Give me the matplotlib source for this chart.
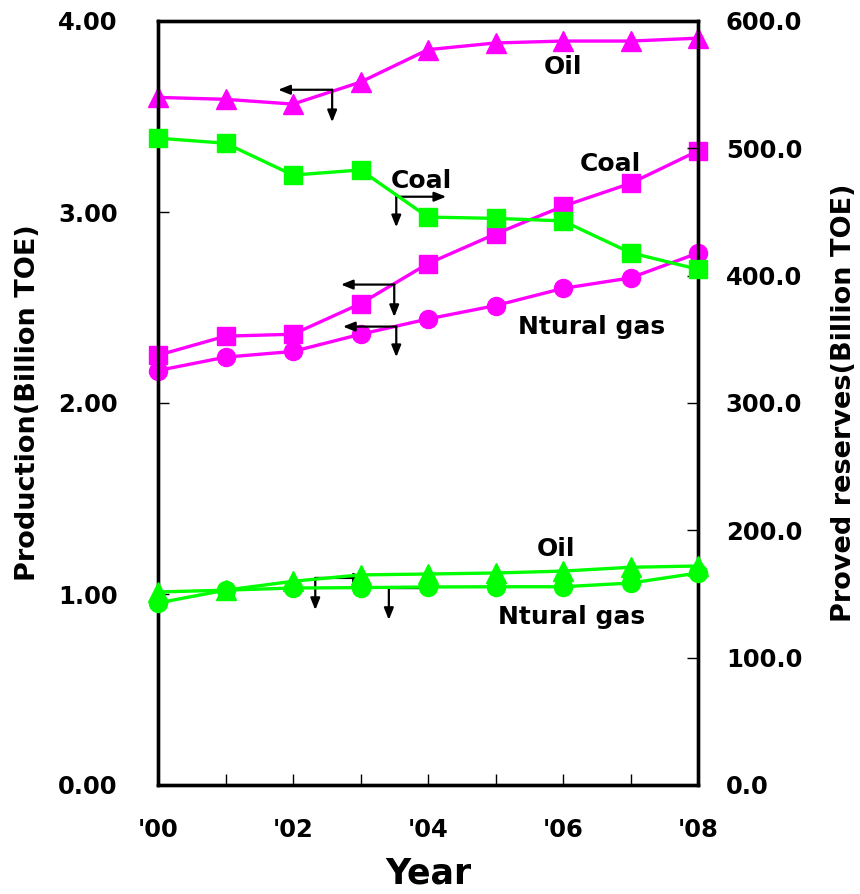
import matplotlib
matplotlib.use("Agg")
import matplotlib.pyplot as plt

years = [2000, 2001, 2002, 2003, 2004, 2005, 2006, 2007, 2008]
tick_years = [2000, 2002, 2004, 2006, 2008]
tick_labels = ["'00", "'02", "'04", "'06", "'08"]

# Production (left axis, Billion TOE)
prod_oil = [3.60, 3.59, 3.565, 3.68, 3.85, 3.885, 3.895, 3.895, 3.91]
prod_coal = [2.25, 2.35, 2.36, 2.52, 2.73, 2.885, 3.03, 3.15, 3.32]
prod_gas = [2.17, 2.24, 2.27, 2.36, 2.44, 2.51, 2.60, 2.655, 2.785]

# Proved reserves (right axis, Billion TOE)
res_coal = [508, 504, 479, 483, 446, 445, 443, 418, 405]
res_oil = [151.6, 153, 160, 165, 165.7, 166.5, 168, 171, 172]
res_gas = [143, 153, 154.7, 155, 155.5, 155.7, 155.7, 158.6, 166.5]

MAG = "#FF00FF"
GRN = "#00FF00"
plt.rcParams["font.family"] = ["DejaVu Sans"]
plt.rcParams["font.weight"] = "bold"

fig = plt.figure(figsize=(8.6, 8.94), dpi=100)
ax = fig.add_axes([158/860, 109/894, 540/860, 764/894])
ax2 = ax.twinx()

lw = 2.4
ms = 13
ax.plot(years, prod_oil, color=MAG, lw=lw, marker="^", ms=ms+1, zorder=3, clip_on=False)
ax.plot(years, prod_coal, color=MAG, lw=lw, marker="s", ms=ms, zorder=3, clip_on=False)
ax.plot(years, prod_gas, color=MAG, lw=lw, marker="o", ms=ms, zorder=3, clip_on=False)
ax2.plot(years, res_coal, color=GRN, lw=lw, marker="s", ms=ms, zorder=3, clip_on=False)
ax2.plot(years, res_oil, color=GRN, lw=lw, marker="^", ms=ms+1, zorder=3, clip_on=False)
ax2.plot(years, res_gas, color=GRN, lw=lw, marker="o", ms=ms, zorder=3, clip_on=False)

ax.set_xlim(2000, 2008)
ax.set_ylim(0, 4)
ax2.set_ylim(0, 600)
ax.set_xticks(years)
ax.set_xticklabels([tick_labels[tick_years.index(y)] if y in tick_years else "" for y in years])
ax.set_yticks([0, 1, 2, 3, 4])
ax.set_yticklabels(["0.00", "1.00", "2.00", "3.00", "4.00"])
ax2.set_yticks([0, 100, 200, 300, 400, 500, 600])
ax2.set_yticklabels(["0.0", "100.0", "200.0", "300.0", "400.0", "500.0", "600.0"])

for a in (ax, ax2):
    for s in a.spines.values():
        s.set_linewidth(2.4)
ax.tick_params(axis="x", direction="in", length=8, width=1, pad=24, labelsize=17.5)
ax.tick_params(axis="y", direction="in", length=8, width=1, pad=29, labelsize=17.5)
ax2.tick_params(axis="y", direction="in", length=8, width=1, pad=20, labelsize=17.5)

ax.set_xlabel("Year", fontsize=25, fontweight="bold", labelpad=10)
ax.set_ylabel("Production(Billion TOE)", fontsize=19.5, fontweight="bold", labelpad=12)
ax2.set_ylabel("Proved reserves(Billion TOE)", fontsize=19.5, fontweight="bold", labelpad=21)

# labels
tk = dict(fontsize=18, fontweight="bold", ha="center", va="center")
ax.text(2006.0, 3.76, "Oil", **tk)
ax.text(2006.7, 3.25, "Coal", **tk)
ax.text(2003.9, 3.16, "Coal", **tk)
ax.text(2006.43, 2.40, "Ntural gas", **tk)
ax.text(2005.9, 1.235, "Oil", **tk)
ax.text(2006.13, 0.88, "Ntural gas", **tk)

# L-shaped arrows: (corner, horizontal end, vertical end)
arrows = [
    ((2002.58, 3.64), 2001.78, 3.47),
    ((2003.53, 3.08), 2004.27, 2.92),
    ((2003.50, 2.62), 2002.71, 2.45),
    ((2003.53, 2.40), 2002.74, 2.24),
    ((2002.33, 1.084), 2003.08, 0.916),
    ((2003.42, 1.031), 2004.13, 0.864),
]
ap = dict(arrowstyle="-|>,head_length=0.7,head_width=0.28", color="black", lw=1.6,
          shrinkA=0, shrinkB=0)
for (cx, cy), hx, vy in arrows:
    ax.annotate("", xy=(hx, cy), xytext=(cx, cy), arrowprops=ap, zorder=5)
    ax.annotate("", xy=(cx, vy), xytext=(cx, cy), arrowprops=ap, zorder=5)

fig.savefig("out.png", dpi=100)
